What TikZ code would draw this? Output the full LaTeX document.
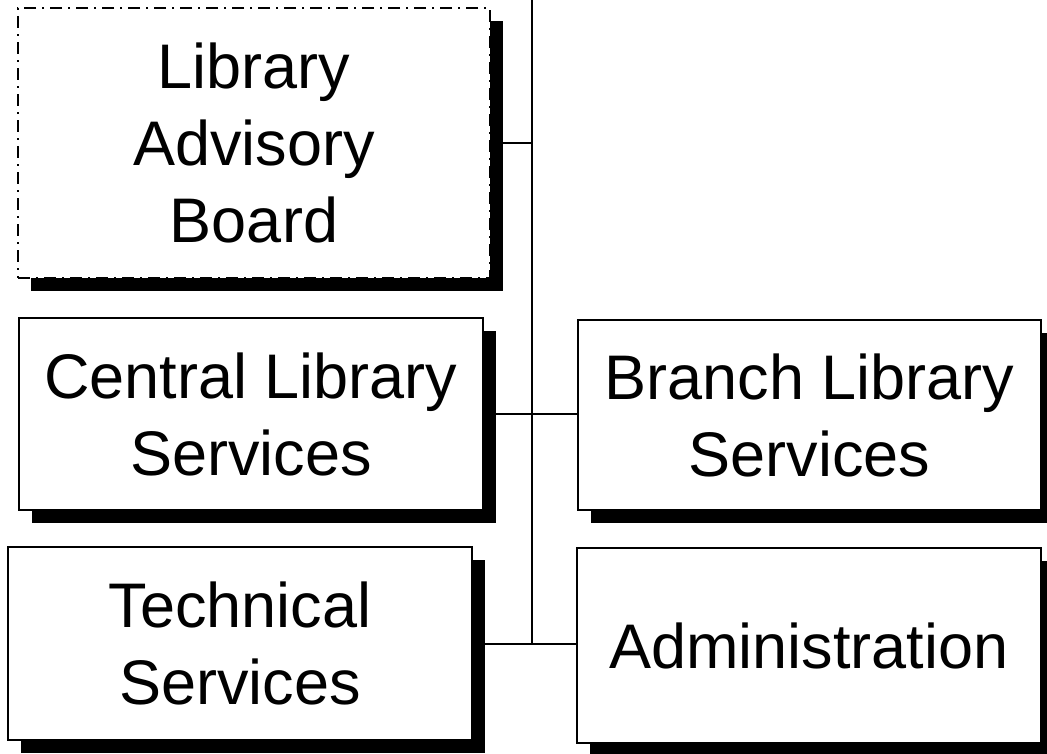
\documentclass[tikz,border=0pt]{standalone}
\usepackage{fontspec}
\setmainfont{Liberation Sans}
\usetikzlibrary{shadows}
\begin{document}
\begin{tikzpicture}[x=1pt,y=-1pt,
  box/.style={draw=black, line width=2pt, fill=white, inner sep=0pt, align=center,
    font=\fontsize{63}{77}\selectfont,
    drop shadow={shadow xshift=13pt, shadow yshift=-13pt, fill=black, opacity=1}},
  dashbox/.style={box, dash pattern=on 12pt off 6pt on 2pt off 6pt, line width=1.6pt},
  link/.style={draw=black, line width=2pt}]
\useasboundingbox (0,0) rectangle (1047,753);
\node[dashbox, minimum width=472pt, minimum height=270pt] (lab) at (254,143) {Library\\Advisory\\Board};
\node[box, minimum width=464pt, minimum height=192pt] (cls) at (251,414) {Central Library\\Services};
\node[box, minimum width=463pt, minimum height=190pt] (bls) at (809.5,415) {Branch Library\\Services};
\node[box, minimum width=464pt, minimum height=193pt] (ts) at (240,643.5) {Technical\\Services};
\node[box, minimum width=464pt, minimum height=195pt] (adm) at (809,645.5) {Administration};
\coordinate (top) at (532,0);
\coordinate (bot) at (ts.east -| top);
\draw[link] (top) -- (bot);
\draw[link] (lab.east) -- (lab.east -| top);
\draw[link] (cls.east) -- (cls.east -| bls.west);
\draw[link] (ts.east) -- (ts.east -| adm.west);
\end{tikzpicture}
\end{document}
